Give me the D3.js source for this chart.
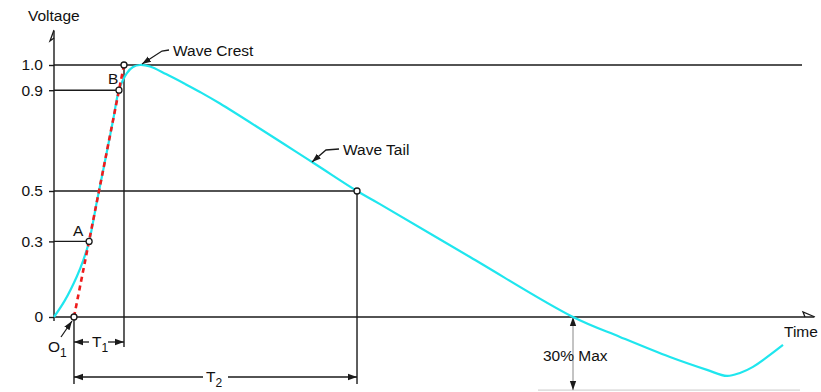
<!DOCTYPE html>
<html>
<head>
<meta charset="utf-8">
<script src="https://cdn.jsdelivr.net/npm/d3@7"></script>
<style>
  html, body { margin: 0; padding: 0; background: #fff; }
  svg text { font-family: Arial, "Liberation Sans", Helvetica, sans-serif; font-size: 15.5px; fill: #111; }
</style>
</head>
<body>
<svg id="chart" width="821" height="392"></svg>
<script>
// Impulse waveform: time (arbitrary units) and voltage (per unit of peak)
const waveTime = [0, 1.45, 2.99, 3.86, 4.62, 5.68, 6.74, 7.78, 8.55, 9.57, 10.39, 11.32, 12.63, 14.74, 17.24, 19.21, 21.84, 33.95, 39.87, 42.89, 54.74, 68.29, 74.47, 81.05, 85.92, 88.55, 90.26, 91.97, 95.92];
const waveVolt = [0, 0.067, 0.16, 0.226, 0.3, 0.464, 0.623, 0.782, 0.9, 0.967, 0.992, 1.0, 0.994, 0.964, 0.925, 0.893, 0.847, 0.615, 0.5, 0.448, 0.238, 0, -0.079, -0.159, -0.21, -0.234, -0.222, -0.198, -0.111];

// Axis ticks
const yTicks = [0, 0.3, 0.5, 0.9, 1.0];
const yTickLabels = ["0", "0.3", "0.5", "0.9", "1.0"];

// Construction points of the virtual front (O1 -> A -> B -> peak level)
const frontTime = [2.63, 4.62, 8.55, 9.21];
const frontVolt = [0, 0.3, 0.9, 1.0];

// Half-value point on the tail, zero crossing, undershoot level
const halfTime = 39.87, halfVolt = 0.5;
const zeroCrossTime = 68.29;
const undershootVolt = -0.29;

const svg = d3.select("#chart");
const x = d3.scaleLinear().domain([0, 100]).range([54, 814]);
const y = d3.scaleLinear().domain([0, 1]).range([317, 65]);

const ink = "#1a1a1a";

// arrowhead marker
const defs = svg.append("defs");
defs.append("marker").attr("id", "arr").attr("viewBox", "0 0 10 10")
  .attr("refX", 10).attr("refY", 5).attr("markerWidth", 9).attr("markerHeight", 9)
  .attr("markerUnits", "userSpaceOnUse").attr("orient", "auto-start-reverse")
  .append("path").attr("d", "M0,1.5 L10,5 L0,8.5 Z").attr("fill", ink);

const line = (x1, y1, x2, y2, w = 1.4, col = ink) =>
  svg.append("line").attr("x1", x1).attr("y1", y1).attr("x2", x2).attr("y2", y2)
    .attr("stroke", col).attr("stroke-width", w);

// --- axes ---
const yAxis = d3.axisLeft(y).tickValues(yTicks)
  .tickFormat((d, i) => yTickLabels[i]).tickSize(5).tickPadding(6);
const gy = svg.append("g").attr("transform", `translate(${x(0)},0)`).call(yAxis);
gy.select(".domain").remove();
gy.selectAll(".tick line").attr("stroke", ink).attr("stroke-width", 1.4);
gy.selectAll(".tick text").attr("font-size", 15.5).attr("font-family", "Arial, 'Liberation Sans', sans-serif").attr("fill", "#111");

// vertical axis with half arrowhead
line(x(0), 321, x(0), 31);
svg.append("path").attr("d", `M${x(0)},30 L${x(0) - 4},41 L${x(0)},38`)
  .attr("fill", "none").attr("stroke", ink).attr("stroke-width", 1.3);
svg.append("text").attr("x", 28).attr("y", 21).text("Voltage");

// horizontal axis with half arrowhead
line(x(0), y(0), 814, y(0));
svg.append("path").attr("d", `M815,${y(0)} L803,${y(0) - 5} L805,${y(0)}`)
  .attr("fill", "none").attr("stroke", ink).attr("stroke-width", 1.3);
svg.append("text").attr("x", 784).attr("y", 337).text("Time");

// peak level line
line(x(0), y(1), 802, y(1));

// reference levels
line(x(0), y(frontVolt[2]), x(frontTime[2]), y(frontVolt[2]));
line(x(0), y(frontVolt[1]), x(frontTime[1]), y(frontVolt[1]));
line(x(0), y(halfVolt), x(halfTime), y(halfVolt));

// extension lines for the dimensions
line(x(frontTime[3]), y(1), x(frontTime[3]), 347);
line(x(frontTime[0]), y(0), x(frontTime[0]), 384);
line(x(halfTime), y(halfVolt), x(halfTime), 384);

// undershoot level and 30% dimension
line(538, y(undershootVolt), 800, y(undershootVolt), 1, "#c8c8c8");
svg.append("line").attr("x1", x(zeroCrossTime)).attr("y1", y(-0.145))
  .attr("x2", x(zeroCrossTime)).attr("y2", y(0)).attr("stroke", "#888").attr("stroke-width", 1)
  .attr("marker-end", "url(#arr)");
svg.append("line").attr("x1", x(zeroCrossTime)).attr("y1", y(-0.145))
  .attr("x2", x(zeroCrossTime)).attr("y2", y(undershootVolt)).attr("stroke", "#888").attr("stroke-width", 1)
  .attr("marker-end", "url(#arr)");
svg.append("text").attr("x", 543).attr("y", 361).text("30% Max");

// T1 dimension
const t1y = 342;
svg.append("line").attr("x1", 89).attr("y1", t1y).attr("x2", x(frontTime[0])).attr("y2", t1y)
  .attr("stroke", ink).attr("stroke-width", 1.3).attr("marker-end", "url(#arr)");
svg.append("line").attr("x1", 108).attr("y1", t1y).attr("x2", x(frontTime[3])).attr("y2", t1y)
  .attr("stroke", ink).attr("stroke-width", 1.3).attr("marker-end", "url(#arr)");
const t1 = svg.append("text").attr("x", 92).attr("y", 347);
t1.append("tspan").text("T");
t1.append("tspan").attr("dy", 5).attr("font-size", 12).text("1");

// T2 dimension
const t2y = 377;
svg.append("line").attr("x1", 203).attr("y1", t2y).attr("x2", x(frontTime[0])).attr("y2", t2y)
  .attr("stroke", ink).attr("stroke-width", 1.3).attr("marker-end", "url(#arr)");
svg.append("line").attr("x1", 228).attr("y1", t2y).attr("x2", x(halfTime)).attr("y2", t2y)
  .attr("stroke", ink).attr("stroke-width", 1.3).attr("marker-end", "url(#arr)");
const t2 = svg.append("text").attr("x", 206).attr("y", 382);
t2.append("tspan").text("T");
t2.append("tspan").attr("dy", 5).attr("font-size", 12).text("2");

// waveform
const wave = waveTime.map((t, i) => [t, waveVolt[i]]);
svg.append("path").datum(wave)
  .attr("d", d3.line().x(d => x(d[0])).y(d => y(d[1])).curve(d3.curveCatmullRom.alpha(0.5)))
  .attr("fill", "none").attr("stroke", "#1fe6ee").attr("stroke-width", 2.2);

// virtual front line through A and B
svg.append("line").attr("x1", x(frontTime[0])).attr("y1", y(frontVolt[0]))
  .attr("x2", x(frontTime[3])).attr("y2", y(frontVolt[3]))
  .attr("stroke", "#ee1c1c").attr("stroke-width", 2.6).attr("stroke-dasharray", "5,4");

// construction points
const pts = frontTime.map((t, i) => [t, frontVolt[i]]).concat([[halfTime, halfVolt]]);
svg.selectAll("circle.pt").data(pts).join("circle").attr("class", "pt")
  .attr("cx", d => x(d[0])).attr("cy", d => y(d[1])).attr("r", 3)
  .attr("fill", "#fff").attr("stroke", ink).attr("stroke-width", 1.3);

// point labels
svg.append("text").attr("x", 73).attr("y", 236).text("A");
svg.append("text").attr("x", 108).attr("y", 84).text("B");
const o1 = svg.append("text").attr("x", 48).attr("y", 352);
o1.append("tspan").text("O");
o1.append("tspan").attr("dy", 5).attr("font-size", 12).text("1");
svg.append("line").attr("x1", 61).attr("y1", 337).attr("x2", 72).attr("y2", 321)
  .attr("stroke", ink).attr("stroke-width", 1.3).attr("marker-end", "url(#arr)");

// callouts
function callout(tipX, tipY, kx, ky, ex, ey, label) {
  svg.append("path").attr("d", `M${ex},${ey} L${kx},${ky} L${tipX},${tipY}`)
    .attr("fill", "none").attr("stroke", ink).attr("stroke-width", 1.3)
    .attr("marker-end", "url(#arr)");
  svg.append("text").attr("x", ex + 4).attr("y", ey + 6).text(label);
}
callout(142, 64, 162, 51, 169, 50, "Wave Crest");
callout(312, 162, 326, 150, 339, 149, "Wave Tail");
</script>
</body>
</html>
